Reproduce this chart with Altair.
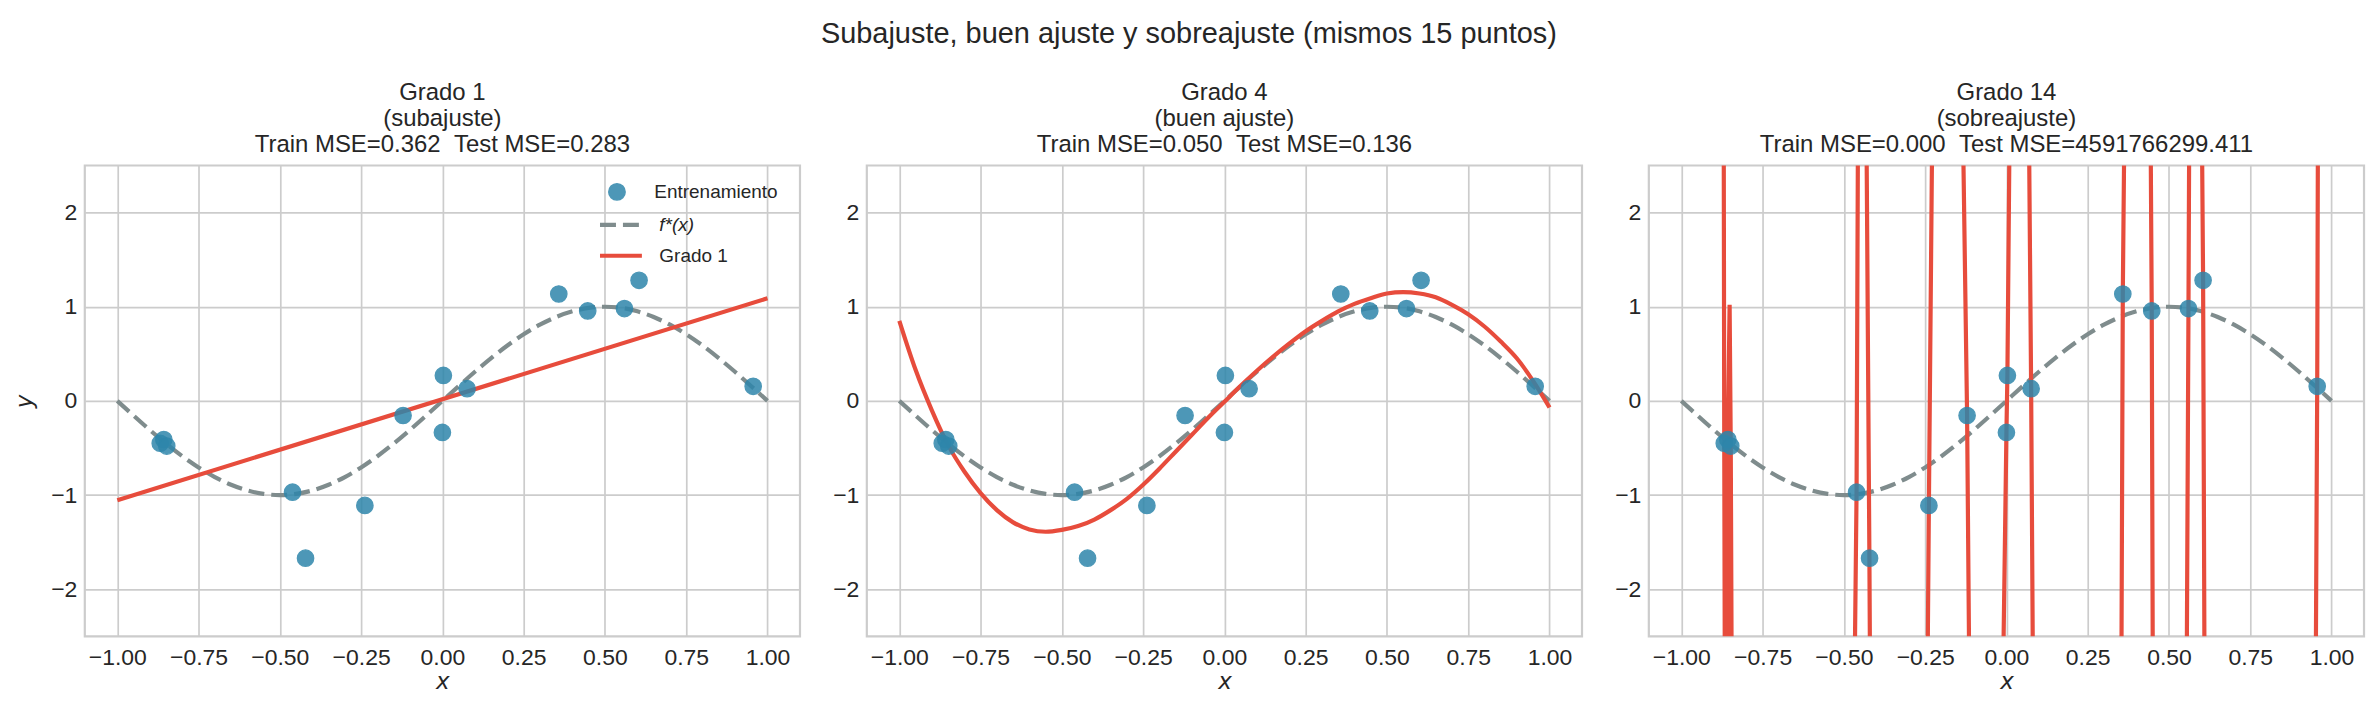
import altair as alt
import pandas as pd

# ---------------- data ----------------
train_x = [-0.868, -0.857, -0.848, -0.461, -0.421, -0.2385, -0.121, 0.0, 0.003,
           0.076, 0.358, 0.447, 0.560, 0.605, 0.956]
train_y = [-0.45, -0.41, -0.48, -0.97, -1.67, -1.11, -0.155, -0.335, 0.27,
           0.13, 1.135, 0.955, 0.98, 1.28, 0.155]

grid_x = [-1.00, -0.95, -0.90, -0.85, -0.80, -0.75, -0.70, -0.65, -0.60, -0.55,
          -0.50, -0.45, -0.40, -0.35, -0.30, -0.25, -0.20, -0.15, -0.10, -0.05,
          0.00, 0.05, 0.10, 0.15, 0.20, 0.25, 0.30, 0.35, 0.40, 0.45,
          0.50, 0.55, 0.60, 0.65, 0.70, 0.75, 0.80, 0.85, 0.90, 0.95, 1.00]
true_y = [0.000, -0.156, -0.309, -0.454, -0.588, -0.707, -0.809, -0.891, -0.951, -0.988,
          -1.000, -0.988, -0.951, -0.891, -0.809, -0.707, -0.588, -0.454, -0.309, -0.156,
          0.000, 0.156, 0.309, 0.454, 0.588, 0.707, 0.809, 0.891, 0.951, 0.988,
          1.000, 0.988, 0.951, 0.891, 0.809, 0.707, 0.588, 0.454, 0.309, 0.156, 0.000]
deg4_y = [0.85, 0.33, -0.10, -0.47, -0.75, -0.98, -1.16, -1.29, -1.365, -1.39,
          -1.37, -1.33, -1.26, -1.16, -1.04, -0.89, -0.72, -0.54, -0.36, -0.18,
          -0.01, 0.16, 0.32, 0.47, 0.61, 0.74, 0.85, 0.95, 1.03, 1.09,
          1.14, 1.155, 1.14, 1.10, 1.02, 0.92, 0.79, 0.63, 0.45, 0.21, -0.07]

deg1_x = [-1.0, 1.0]
deg1_y = [-1.055, 1.09]

deg14_x = [-1.0, -0.8695, -0.868, -0.8665, -0.862, -0.8585, -0.857, -0.8515, -0.848, -0.8455,
           -0.70, -0.466, -0.461, -0.457, -0.444, -0.430, -0.4215, -0.420, -0.33,
           -0.242, -0.2385, -0.229, -0.18, -0.1325, -0.121, -0.115, -0.06,
           -0.009, 0.0, 0.003, 0.009, 0.04, 0.070, 0.076, 0.081, 0.22,
           0.354, 0.358, 0.362, 0.40, 0.444, 0.447, 0.450, 0.50,
           0.555, 0.560, 0.562, 0.583, 0.602, 0.605, 0.609, 0.78,
           0.952, 0.956, 0.958, 1.0]
deg14_y = [60, 2.6, -0.45, -2.6, -60, -2.6, -0.41, 1.02, -0.48, -2.6,
           -60, -2.6, -0.97, 2.6, 60, 2.6, -1.67, -2.6, -60,
           -2.6, -1.11, 2.6, 60, 2.6, -0.155, -2.6, -60,
           -2.6, -0.335, 0.27, 2.6, 60, 2.6, 0.13, -2.6, -60,
           -2.6, 1.135, 2.6, 60, 2.6, 0.955, -2.6, -60,
           -2.6, 0.98, 2.6, 60, 2.6, 1.28, -2.6, -60,
           -2.6, 0.155, 2.6, 60]

titles = [
    ["Grado 1", "(subajuste)", "Train MSE=0.362 \u00a0Test MSE=0.283"],
    ["Grado 4", "(buen ajuste)", "Train MSE=0.050 \u00a0Test MSE=0.136"],
    ["Grado 14", "(sobreajuste)", "Train MSE=0.000 \u00a0Test MSE=4591766299.411"],
]
x_ticks = [-1.0, -0.75, -0.5, -0.25, 0.0, 0.25, 0.5, 0.75, 1.0]
y_ticks = [-2, -1, 0, 1, 2]

# ---------------- styling ----------------
BLUE = "#2E86AB"
RED = "#E74C3C"
GRAY = "#7F8C8D"
TXT = "#262626"
FONT = "Liberation Sans"
W, H = 717, 472
LW = 4.2
PT = 270

df_train = pd.DataFrame({"x": train_x, "y": train_y, "serie": "Entrenamiento"})
df_true = pd.DataFrame({"x": grid_x, "y": true_y, "serie": "f*(x)"})
df_d1 = pd.DataFrame({"x": deg1_x, "y": deg1_y, "serie": "Grado 1"})
df_d4 = pd.DataFrame({"x": grid_x, "y": deg4_y})
df_d14 = pd.DataFrame({"x": deg14_x, "y": deg14_y})
df_d14["idx"] = list(range(len(deg14_x)))

xscale = alt.Scale(domain=[-1.1, 1.1], nice=False, zero=False)
yscale = alt.Scale(domain=[-2.5, 2.5], nice=False, zero=False)

axis_common = dict(grid=True, gridColor="#cccccc", gridWidth=1.7, domain=False, ticks=False,
                   labelFont=FONT, labelFontSize=23, labelColor=TXT,
                   titleColor=TXT, titleFont="DejaVu Sans", titleFontStyle="italic",
                   titleFontWeight="normal", titleFontSize=23)

xaxis = alt.Axis(values=x_ticks, format=".2f", title="x", labelPadding=10, titlePadding=1,
                 **axis_common)


def yaxis(show_title):
    if show_title:
        return alt.Axis(values=y_ticks, format="d", title="y", labelPadding=8, titlePadding=14,
                        **axis_common)
    return alt.Axis(values=y_ticks, format="d", title=None, labelPadding=8, **axis_common)


leg_common = dict(title=None, orient="none", padding=0, labelFont=FONT, labelFontSize=19,
                  labelColor=TXT)


def panel(i, fit_df, fit_clip):
    enc_x = alt.X("x:Q", scale=xscale, axis=xaxis)
    enc_y = alt.Y("y:Q", scale=yscale, axis=yaxis(i == 0))
    if i == 0:
        true_layer = alt.Chart(df_true).mark_line(
            color=GRAY, strokeWidth=LW, interpolate="monotone"
        ).encode(
            x=enc_x, y=enc_y,
            strokeDash=alt.StrokeDash(
                "serie:N", scale=alt.Scale(domain=["f*(x)"], range=[[16, 7]]),
                legend=alt.Legend(legendX=514, legendY=36, symbolType="stroke", symbolSize=1764,
                                  symbolStrokeColor=GRAY, symbolStrokeWidth=LW, labelOffset=15,
                                  labelFontStyle="italic", **leg_common)))
        fit_layer = alt.Chart(fit_df).mark_line(strokeWidth=LW).encode(
            x=enc_x, y=enc_y,
            stroke=alt.Stroke(
                "serie:N", scale=alt.Scale(domain=["Grado 1"], range=[RED]),
                legend=alt.Legend(legendX=514, legendY=67, symbolType="stroke", symbolSize=1764,
                                  symbolStrokeWidth=LW, labelOffset=15, **leg_common)))
        pts_layer = alt.Chart(df_train).mark_circle(
            size=PT, opacity=0.85, stroke=BLUE, strokeWidth=1.3
        ).encode(
            x=enc_x, y=enc_y,
            fill=alt.Fill(
                "serie:N", scale=alt.Scale(domain=["Entrenamiento"], range=[BLUE]),
                legend=alt.Legend(legendX=524, legendY=17, symbolType="circle", symbolSize=PT,
                                  symbolOpacity=0.85, labelOffset=28, **leg_common)))
    else:
        true_layer = alt.Chart(df_true).mark_line(
            color=GRAY, strokeWidth=LW, strokeDash=[16, 7], interpolate="monotone"
        ).encode(x=enc_x, y=enc_y)
        if fit_clip:
            fit_layer = alt.Chart(fit_df).mark_line(color=RED, strokeWidth=LW, clip=True).encode(
                x=enc_x, y=enc_y, order=alt.Order("idx:Q"))
        else:
            fit_layer = alt.Chart(fit_df).mark_line(color=RED, strokeWidth=LW,
                                                    interpolate="monotone").encode(x=enc_x, y=enc_y)
        pts_layer = alt.Chart(df_train).mark_circle(
            size=PT, opacity=0.85, color=BLUE, stroke=BLUE, strokeWidth=1.3
        ).encode(x=enc_x, y=enc_y)

    return alt.layer(true_layer, fit_layer, pts_layer).properties(
        width=W, height=H,
        title=alt.Title(text=titles[i], fontSize=24, lineHeight=26, font=FONT,
                        fontWeight="normal", color=TXT, offset=9, anchor="middle"),
    )


p1 = panel(0, df_d1, False)
p2 = panel(1, df_d4, False)
p3 = panel(2, df_d14, True)

chart = alt.hconcat(p1, p2, p3, spacing=29).resolve_scale(
    fill="independent", stroke="independent", strokeDash="independent"
).resolve_legend(
    fill="independent", stroke="independent", strokeDash="independent"
).properties(
    title=alt.Title("Subajuste, buen ajuste y sobreajuste (mismos 15 puntos)", fontSize=29,
                    font=FONT, fontWeight="normal", color=TXT, anchor="middle", offset=31),
    padding={"left": 4, "top": 10, "right": 5, "bottom": 5},
    background="white",
).configure_view(
    stroke="#cccccc", strokeWidth=2.2
)

chart.save("out.html", embed_options={"renderer": "svg", "actions": False})
